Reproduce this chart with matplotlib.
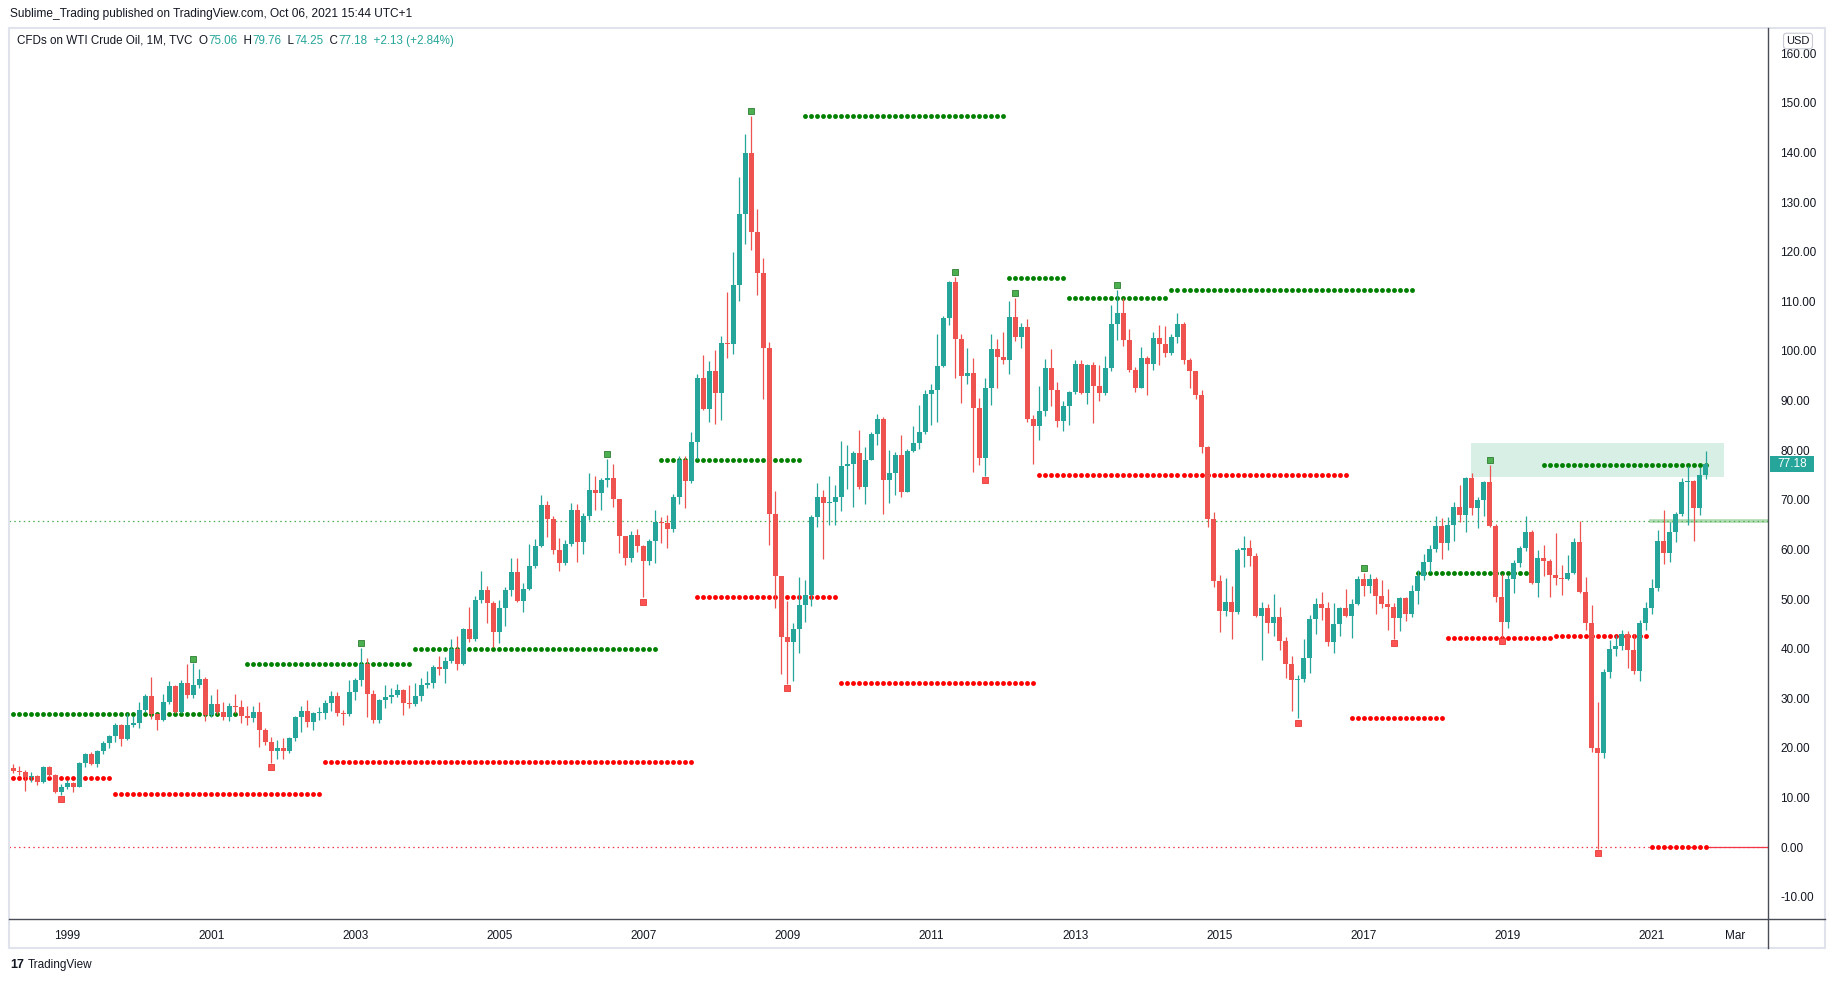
import matplotlib
matplotlib.use("Agg")
import matplotlib.pyplot as plt
import matplotlib.transforms as mtransforms
import numpy as np
from matplotlib.patches import Rectangle

plt.rcParams["font.family"] = ["Liberation Sans", "DejaVu Sans"]

W, H = 1835, 982
UP = "#26a69a"
DOWN = "#ef5350"
TEXT = "#131722"
AXIS = "#4a4d57"

# monthly candles, Apr 1998 .. Oct 2021 (open = previous close)
first_open = 15.9
closes = [
    15.4, 15.2, 14.2, 14.3, 13.2, 16.1, 14.5, 11.2, 12.2,                     # 1998
    13.0, 12.2, 16.9, 18.7, 16.7, 19.4, 20.9, 22.3, 24.6, 21.7, 24.6, 25.1,   # 1999
    27.6, 30.4, 26.8, 25.6, 29.2, 32.5, 27.3, 33.1, 30.7, 32.7, 33.9, 26.6,   # 2000
    28.8, 27.3, 26.2, 28.4, 28.3, 26.4, 26.1, 27.2, 23.5, 21.1, 19.4, 19.9,   # 2001
    19.4, 22.0, 26.2, 27.5, 25.2, 27.0, 27.1, 29.0, 30.4, 27.1, 26.8, 31.2,   # 2002
    33.7, 36.9, 30.8, 25.6, 29.6, 30.2, 30.7, 31.7, 29.1, 28.9, 30.4, 32.7,   # 2003
    33.1, 36.3, 35.8, 37.5, 39.9, 36.9, 43.9, 41.9, 49.8, 51.8, 49.1, 43.4,   # 2004
    48.2, 51.8, 55.4, 49.6, 52.0, 56.6, 60.7, 69.0, 66.2, 59.8, 57.3, 61.1,   # 2005
    67.9, 61.4, 66.7, 72.0, 71.3, 73.9, 74.3, 70.1, 62.8, 58.3, 63.0, 60.7,   # 2006
    57.7, 61.7, 65.6, 65.4, 64.1, 70.6, 78.1, 73.7, 81.7, 94.5, 88.4, 96.0,   # 2007
    91.5, 101.7, 101.4, 113.3, 127.7, 140.0, 123.9, 115.7, 100.6, 67.2, 54.6, 42.4,  # 2008
    41.4, 44.0, 48.8, 50.8, 66.6, 70.6, 69.3, 69.5, 70.5, 76.9, 77.3, 79.5,   # 2009
    72.5, 78.1, 83.3, 86.2, 73.9, 75.4, 79.0, 71.6, 79.8, 81.5, 83.7, 91.3,   # 2010
    92.1, 97.0, 106.7, 113.9, 102.4, 95.0, 95.6, 88.5, 78.4, 92.5, 100.4, 98.8,  # 2011
    98.2, 106.9, 102.8, 104.8, 86.3, 84.9, 87.9, 96.6, 92.1, 85.9, 88.9, 91.7,   # 2012
    97.4, 91.5, 97.2, 93.0, 91.5, 96.6, 105.4, 107.7, 102.2, 96.2, 92.5, 98.6,   # 2013
    97.4, 102.6, 101.4, 99.6, 102.8, 105.4, 98.2, 96.0, 91.2, 80.6, 66.2, 53.7,  # 2014
    47.6, 49.4, 47.4, 59.9, 60.3, 58.7, 46.6, 48.2, 45.2, 46.4, 41.5, 36.9,   # 2015
    33.7, 33.9, 38.1, 46.0, 49.0, 48.2, 41.3, 45.0, 48.2, 46.6, 49.0, 54.0,   # 2016
    52.6, 54.0, 50.6, 49.0, 48.4, 46.2, 50.2, 47.0, 51.6, 54.6, 57.5, 60.1,   # 2017
    64.7, 61.3, 64.9, 68.5, 66.9, 74.4, 68.3, 70.0, 73.6, 64.7, 50.4, 45.4,   # 2018
    54.0, 57.3, 60.3, 63.5, 53.2, 58.3, 57.7, 54.8, 54.2, 54.0, 55.2, 61.5,   # 2019
    51.4, 45.2, 20.0, 19.0, 35.3, 39.9, 40.5, 42.9, 39.7, 35.5, 45.2, 48.2,   # 2020
    52.2, 61.7, 59.3, 63.5, 67.1, 73.6, 73.8, 68.3, 75.06, 77.18,             # 2021
]
highs = [
    16.7, 16.3, 15.5, 15.1, 14.5, 16.4, 16.4, 14.7, 12.7,
    13.6, 13.1, 17.1, 19.0, 19.2, 19.6, 21.3, 22.6, 25.1, 24.9, 27.1, 26.5,
    29.2, 30.8, 34.2, 27.0, 30.9, 33.5, 32.6, 33.6, 36.9, 37.1, 35.9, 34.2,
    30.7, 31.9, 29.2, 29.0, 30.9, 29.6, 28.4, 28.4, 29.2, 24.0, 22.1, 21.6,
    22.0, 22.1, 26.5, 28.4, 29.6, 27.3, 28.3, 29.6, 31.5, 31.2, 27.6, 33.7,
    34.1, 40.1, 38.1, 31.7, 29.8, 32.7, 32.1, 32.9, 31.9, 32.7, 33.1, 34.1,
    35.5, 36.6, 38.5, 38.3, 41.9, 42.5, 44.2, 48.4, 50.6, 55.6, 52.6, 49.5,
    49.8, 52.5, 58.3, 58.3, 53.2, 61.1, 62.1, 71.0, 69.8, 66.7, 62.3, 61.9,
    69.4, 69.2, 67.3, 75.4, 74.8, 74.3, 78.3, 77.2, 70.1, 62.8, 63.8, 64.1,
    60.9, 62.1, 68.0, 66.6, 67.0, 71.1, 78.8, 78.8, 83.7, 95.3, 99.2, 97.9,
    100.1, 103.0, 111.8, 119.9, 135.0, 143.7, 147.3, 128.6, 118.7, 101.9, 71.7, 54.5,
    49.7, 45.1, 54.4, 53.8, 67.0, 73.3, 71.9, 74.8, 73.0, 81.9, 81.0, 79.9,
    84.0, 80.7, 83.7, 87.2, 86.7, 80.0, 79.6, 83.1, 80.2, 84.9, 89.1, 92.1,
    93.4, 103.4, 107.0, 114.1, 114.9, 103.4, 100.6, 98.6, 90.5, 94.6, 103.4, 102.4,
    103.8, 110.1, 110.7, 105.6, 106.4, 87.1, 93.0, 98.4, 100.4, 93.7, 89.9, 91.9,
    98.2, 98.2, 97.4, 97.8, 97.2, 99.0, 109.3, 112.3, 110.7, 104.4, 96.8, 100.8,
    99.0, 103.8, 105.2, 105.0, 103.5, 107.7, 105.9, 98.6, 96.0, 92.2, 80.9, 67.5,
    54.8, 54.2, 52.6, 60.2, 62.7, 61.9, 59.3, 49.4, 49.0, 51.0, 48.4, 42.3,
    38.5, 34.7, 41.9, 46.8, 50.2, 51.5, 49.4, 49.2, 48.4, 52.0, 50.0, 54.6,
    55.2, 55.0, 54.4, 53.8, 52.0, 49.2, 50.4, 50.4, 52.8, 55.8, 59.1, 60.9,
    66.7, 66.3, 66.5, 69.5, 73.0, 74.6, 75.4, 70.6, 73.8, 77.0, 65.2, 55.0,
    54.8, 57.9, 60.7, 66.7, 63.9, 59.9, 60.9, 58.1, 63.3, 56.9, 58.9, 62.3,
    65.7, 54.4, 48.8, 29.2, 35.9, 41.7, 42.7, 43.8, 43.6, 42.9, 45.8, 49.4,
    54.0, 63.9, 67.9, 65.5, 67.5, 74.4, 76.8, 74.0, 76.6, 79.76,
]
lows = [
    14.9, 14.5, 11.4, 13.2, 12.6, 13.0, 14.2, 10.8, 10.5,
    11.8, 11.2, 12.1, 16.1, 16.5, 16.2, 18.8, 20.0, 21.2, 20.4, 21.5, 24.3,
    23.9, 27.3, 25.9, 23.5, 25.4, 28.8, 27.0, 27.0, 30.1, 30.1, 32.1, 25.5,
    26.3, 26.8, 25.6, 25.5, 27.0, 25.1, 24.6, 25.3, 20.2, 20.6, 17.0, 17.8,
    17.8, 19.0, 21.3, 23.2, 24.3, 23.6, 25.6, 25.9, 27.5, 26.4, 24.6, 26.4,
    29.6, 32.5, 26.3, 25.1, 25.1, 28.1, 29.1, 30.2, 26.6, 28.1, 28.5, 29.5,
    32.1, 32.1, 34.7, 33.1, 37.2, 35.6, 36.6, 41.3, 41.5, 49.1, 45.2, 40.4,
    41.2, 44.6, 50.7, 49.4, 47.4, 51.9, 56.3, 60.4, 62.6, 59.1, 55.7, 56.9,
    60.7, 57.5, 59.1, 66.0, 67.9, 67.9, 72.5, 68.5, 59.3, 56.8, 57.4, 59.5,
    50.5, 56.9, 57.2, 61.2, 60.3, 63.6, 69.2, 68.4, 73.3, 78.2, 88.2, 85.7,
    85.2, 86.0, 98.6, 99.3, 110.1, 121.6, 120.4, 111.2, 90.3, 60.9, 48.1, 34.9,
    32.9, 33.4, 39.2, 45.3, 48.5, 64.6, 58.1, 65.0, 64.9, 67.8, 72.1, 68.5,
    72.2, 69.2, 78.0, 81.1, 67.1, 69.4, 71.0, 70.6, 71.6, 79.6, 80.2, 83.3,
    85.1, 85.7, 96.8, 105.2, 94.6, 89.5, 93.4, 75.6, 77.0, 74.8, 89.1, 92.5,
    97.4, 95.4, 102.0, 100.6, 85.7, 77.2, 82.0, 86.9, 88.9, 84.7, 83.9, 85.1,
    91.3, 91.3, 89.3, 85.5, 89.9, 91.1, 96.0, 102.2, 101.0, 95.8, 91.7, 92.5,
    91.1, 96.2, 97.2, 98.8, 99.1, 101.7, 97.3, 92.5, 90.4, 79.5, 64.5, 52.5,
    43.4, 46.6, 41.9, 47.0, 56.5, 56.6, 46.3, 37.7, 43.1, 42.5, 39.7, 34.1,
    27.4, 26.0, 33.3, 35.1, 42.9, 45.8, 40.5, 39.1, 42.5, 46.4, 42.1, 48.8,
    50.6, 51.2, 47.0, 48.2, 43.7, 41.9, 43.5, 45.6, 46.4, 49.0, 53.8, 55.4,
    59.5, 58.1, 59.9, 61.7, 65.5, 63.5, 66.9, 64.3, 66.7, 64.6, 49.4, 40.9,
    44.2, 51.2, 56.5, 59.7, 53.0, 50.4, 54.6, 50.4, 52.8, 50.8, 53.9, 55.0,
    51.2, 43.8, 19.2, -0.3, 18.0, 34.1, 38.5, 39.7, 36.1, 34.9, 33.5, 43.8,
    47.0, 51.6, 57.1, 57.5, 61.5, 66.7, 64.9, 61.7, 66.9, 74.25,
]
opens = [first_open] + closes[:-1]

# indicator levels (month index of first / last dot)
green_level_values = [26.8, 37.0, 40.0, 78.1, 147.3, 114.8, 110.6, 112.3, 55.2, 77.0]
green_level_start = [0, 39, 67, 108, 132, 166, 176, 193, 234, 255]
green_level_end = [37, 66, 107, 131, 165, 175, 192, 233, 252, 282]
red_level_values = [13.85, 10.6, 17.1, 50.4, 33.0, 74.9, 26.1, 42.1, 42.5, 0.0]
red_level_start = [0, 17, 52, 114, 138, 171, 223, 239, 257, 273]
red_level_end = [16, 51, 113, 137, 170, 222, 238, 256, 272, 282]

# pivot markers
pivot_high_months = [30, 58, 99, 123, 157, 167, 184, 225, 246]
pivot_high_prices = [38.0, 41.1, 79.2, 148.3, 115.9, 111.6, 113.2, 56.2, 78.0]
pivot_low_months = [8, 43, 105, 129, 162, 214, 230, 248, 264]
pivot_low_prices = [9.6, 16.1, 49.4, 32.0, 73.9, 25.1, 41.1, 41.5, -1.1]

x_tick_labels = ["1999", "2001", "2003", "2005", "2007", "2009", "2011",
                 "2013", "2015", "2017", "2019", "2021", "Mar"]
y_tick_values = list(range(-10, 161, 10))

h_line_green = 65.7
zone_low, zone_high = 74.5, 81.4
zone_start, zone_end = 242.9, 285.1


def fx(px):
    return px / W


def fy(py):
    return 1 - py / H


fig = plt.figure(figsize=(W / 100, H / 100), dpi=100)
fig.patch.set_facecolor("white")

ax_l, ax_r, ax_t, ax_b = 9.4, 1768, 28, 919
ax = fig.add_axes([fx(ax_l), fy(ax_b), fx(ax_r - ax_l), (ax_b - ax_t) / H])
ax.set_facecolor("white")
for s in ax.spines.values():
    s.set_visible(False)

n = len(closes)
months = np.arange(n)
o = np.array(opens)
c = np.array(closes)
colors = [UP if cc >= oo else DOWN for oo, cc in zip(o, c)]

# background zone and guide lines
ax.add_patch(Rectangle((zone_start, zone_low), zone_end - zone_start, zone_high - zone_low,
                       facecolor="#d7efe4", edgecolor="none", zorder=0.5))
ax.axhline(h_line_green, color="#4caf50", lw=0.9, ls=(0, (1.2, 2.6)), zorder=1)
ax.axhline(0, color="#f23645", lw=0.9, ls=(0, (1.2, 2.6)), zorder=1)
ax.plot([272.9, 300], [h_line_green, h_line_green], color="#4caf50", lw=2.6, alpha=0.45, zorder=1)
ax.plot([282.4, 300], [0, 0], color="#f23645", lw=0.9, zorder=1)

# dotted levels
for v, a, b in zip(green_level_values, green_level_start, green_level_end):
    xs = np.arange(a, b + 1)
    ax.plot(xs, np.full(len(xs), v), "o", ms=3.5, color="#008000", mew=0, zorder=2)
for v, a, b in zip(red_level_values, red_level_start, red_level_end):
    xs = np.arange(a, b + 1)
    ax.plot(xs, np.full(len(xs), v), "o", ms=3.5, color="#ff0000", mew=0, zorder=2)

# candles
ax.vlines(months, lows, highs, colors=colors, linewidth=0.9, zorder=3)
bottoms = np.minimum(o, c)
heights = np.maximum(np.abs(c - o), 0.2)
ax.bar(months, heights, bottom=bottoms, width=0.76, color=colors, linewidth=0, zorder=4)

# pivot markers
ax.plot(pivot_high_months, pivot_high_prices, "s", ms=3.8, mfc="#4caf50", mec="#2e7d32",
        mew=0.6, ls="none", zorder=5)
ax.plot(pivot_low_months, pivot_low_prices, "s", ms=3.8, mfc="#ff5252", mec="#e53935",
        mew=0.6, ls="none", zorder=5)

ax.set_xlim(-0.65, 292.4)
ax.set_ylim(-14.5, 165.1)

x_pos = []
for lab in x_tick_labels:
    if lab.isdigit():
        x_pos.append((int(lab) - 1998) * 12 - 3)
    else:
        x_pos.append((2022 - 1998) * 12 - 1)
ax.set_xticks(x_pos)
ax.set_xticklabels(x_tick_labels)
ax.yaxis.tick_right()
ax.set_yticks(y_tick_values)
ax.set_yticklabels([f"{v:.2f}" for v in y_tick_values])
ax.tick_params(axis="y", length=0, pad=9, labelsize=8.5, labelcolor=TEXT)
ax.tick_params(axis="x", length=0, pad=8, labelsize=8.5, labelcolor=TEXT)

# last price label
bt = mtransforms.blended_transform_factory(fig.transFigure, ax.transData)
last = closes[-1]
ax.add_patch(Rectangle((fx(1770), last - 1.6), fx(44), 3.2, transform=bt, facecolor=UP,
                       edgecolor="none", clip_on=False, zorder=6))
ax.text(fx(1792), last, f"{last:.2f}", transform=bt, ha="center", va="center",
        color="white", fontsize=8.5, clip_on=False, zorder=7)

# frame lines
fig.add_artist(Rectangle((fx(9.4), fy(948)), fx(1825 - 9.4), (948 - 28) / H, transform=fig.transFigure,
                         facecolor="none", edgecolor="#e0e3eb", lw=1.5))
fig.add_artist(plt.Line2D([fx(ax_r), fx(ax_r)], [fy(28), fy(948)], color=AXIS, lw=1.0))
fig.add_artist(plt.Line2D([fx(9.4), fx(1825)], [fy(ax_b), fy(ax_b)], color=AXIS, lw=1.0))

fig.text(fx(1798), fy(41), "USD", ha="center", va="center", fontsize=8, color=TEXT,
         bbox=dict(boxstyle="round,pad=0.25", fc="white", ec="#c8cbd3", lw=0.8))

fig.text(fx(10), fy(14), "Sublime_Trading published on TradingView.com, Oct 06, 2021 15:44 UTC+1",
         ha="left", va="center", fontsize=8.6, color=TEXT)

renderer = fig.canvas.get_renderer()
pieces = [("CFDs on WTI Crude Oil, 1M, TVC  ", TEXT), ("O", TEXT), ("75.06", UP),
          ("  H", TEXT), ("79.76", UP), ("  L", TEXT), ("74.25", UP), ("  C", TEXT),
          ("77.18", UP), ("  +2.13 (+2.84%)", UP)]
x = 17
for s, col in pieces:
    t = fig.text(fx(x), fy(41), s, ha="left", va="center", fontsize=8.4, color=col)
    x += t.get_window_extent(renderer=renderer).width

fig.text(fx(10), fy(965), "17", ha="left", va="center", fontsize=9, fontweight="bold", color=TEXT)
fig.text(fx(28), fy(965), "TradingView", ha="left", va="center", fontsize=8.5, color=TEXT)

fig.savefig("out.png", dpi=100, facecolor="white")
